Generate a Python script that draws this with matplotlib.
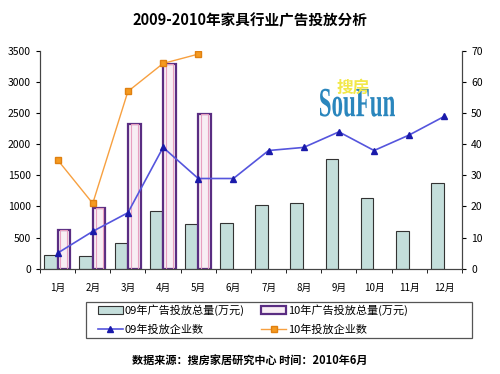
import matplotlib
matplotlib.use("Agg")
import matplotlib.pyplot as plt
from matplotlib.patches import Rectangle, PathPatch
from matplotlib.textpath import TextPath
from matplotlib.font_manager import FontProperties
from matplotlib.transforms import Affine2D
import numpy as np

plt.rcParams['font.family'] = ['Noto Sans CJK SC', 'DejaVu Sans']

months = ["1月", "2月", "3月", "4月", "5月", "6月", "7月", "8月", "9月", "10月", "11月", "12月"]
ad_2009 = [220, 200, 420, 930, 720, 730, 1020, 1060, 1760, 1130, 610, 1380]
ad_2010 = [630, 970, 2320, 3290, 2490]
firms_2009 = [5, 12, 18, 39, 29, 29, 38, 39, 44, 38, 43, 49]
firms_2010 = [35, 21, 57, 66, 69]

fig = plt.figure(figsize=(5.0, 3.74), dpi=100)
ax = fig.add_axes([0.08, 0.2816, 0.844, 0.582])
ax2 = ax.twinx()

x = np.arange(len(months))
x10 = np.arange(len(ad_2010))
w = 0.36

ax.bar(x - 0.2, ad_2009, width=w, color="#c4dedb", edgecolor="#333333", linewidth=0.8,
       label="09年广告投放总量(万元)")
ax.bar(x10 + 0.18, ad_2010, width=w, color="#f8eef4", edgecolor="#5a2d82", linewidth=1.6,
       label="10年广告投放总量(万元)")
# pinkish inner stripes on 2010 bars
ax.bar(x10 + 0.18, ad_2010, width=w * 0.55, color="none", edgecolor="#e8a0c0", linewidth=0.8)

ax2.plot(x, firms_2009, color="#5555dd", linewidth=1.2, marker="^", markersize=5,
         markerfacecolor="#1a1aaa", markeredgecolor="#1a1aaa", label="09年投放企业数")
ax2.plot(x10, firms_2010, color="#f7a040", linewidth=1.0, marker="s", markersize=5,
         markerfacecolor="#f59a20", markeredgecolor="#e08010", label="10年投放企业数")

ax.set_xlim(-0.5, 11.5)
ax.set_ylim(0, 3500)
ax2.set_ylim(0, 70)
ax.set_yticks(range(0, 3501, 500))
ax2.set_yticks(range(0, 71, 10))
ax.set_xticks(x)
ax.set_xticklabels(months, fontsize=7)
ax.set_xticks(np.arange(-0.5, 12, 1), minor=True)
ax.tick_params(axis="x", which="major", length=0, pad=10)
ax.tick_params(axis="x", which="minor", length=3, direction="out")
ax.tick_params(axis="y", labelsize=7.5, length=3)
ax2.tick_params(axis="y", labelsize=7.5, length=3)

for a in (ax, ax2):
    a.spines["top"].set_visible(False)
    for s in a.spines.values():
        s.set_color("#444444")
        s.set_linewidth(0.8)

# watermark logo: tall condensed "SouFun" with yellow 搜房 on top
logo = TextPath((0, 0), "SouFun", size=1,
                prop=FontProperties(family="Liberation Serif", weight="bold"))
ext = logo.get_extents()
tr = (Affine2D().translate(-ext.x0, -ext.y0)
      .scale(0.15 / ext.width, (28 / 374) / ext.height)
      .translate(0.64, 0.688))
fig.patches.append(PathPatch(logo, transform=tr + fig.transFigure,
                             facecolor="#2a86bd", edgecolor="none"))
fig.text(0.674, 0.752, "搜房", fontsize=12, fontweight="bold", color="#f2e84a", zorder=5)

h1, l1 = ax.get_legend_handles_labels()
h2, l2 = ax2.get_legend_handles_labels()
handles = [h1[0], h2[0], h1[1], h2[1]]
labels = [l1[0], l2[0], l1[1], l2[1]]
leg = fig.legend(handles, labels, ncol=2, loc="center left", bbox_to_anchor=(0.185, 0.145),
                 fontsize=8, frameon=False, handlelength=2.2, handletextpad=0.2,
                 columnspacing=1.5, borderpad=0.0, labelspacing=0.75)
fig.patches.append(Rectangle((0.172, 0.096), 0.772, 0.097, transform=fig.transFigure,
                             fill=False, edgecolor="#555555", linewidth=0.9))

fig.text(0.5, 0.947, "2009-2010年家具行业广告投放分析", ha="center", va="center",
         fontsize=10.5, fontweight="bold")
fig.text(0.5, 0.037, "数据来源：搜房家居研究中心 时间：2010年6月", ha="center", va="center",
         fontsize=8, fontweight="bold")

fig.savefig("out.png", dpi=100)
